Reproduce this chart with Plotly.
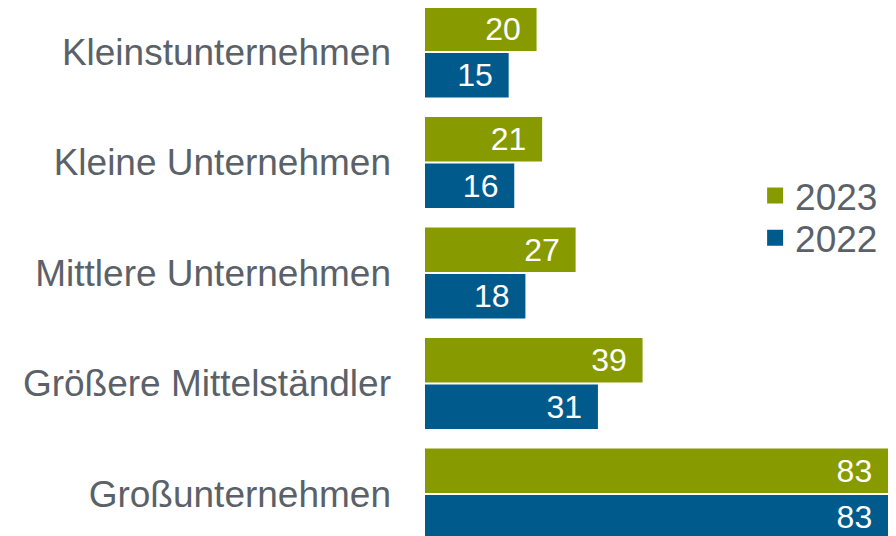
import plotly.graph_objects as go

categories = ["Kleinstunternehmen", "Kleine Unternehmen", "Mittlere Unternehmen",
              "Größere Mittelständler", "Großunternehmen"]
values_2023 = [20, 21, 27, 39, 83]
values_2022 = [15, 16, 18, 31, 83]

green = "#879a00"
blue = "#005a8c"
grey = "#5a6168"
font = "Liberation Sans, Arial, sans-serif"

fig = go.Figure()
fig.add_trace(go.Bar(y=categories, x=values_2023, orientation="h", name="2023",
                     marker_color=green, showlegend=False))
fig.add_trace(go.Bar(y=categories, x=values_2022, orientation="h", name="2022",
                     marker_color=blue, showlegend=False))

# legend entries with bigger square markers, one legend each so the spacing can be set
fig.add_trace(go.Scatter(x=[None], y=[None], mode="markers", name="2023", legend="legend",
                         marker=dict(symbol="square", size=17, color=green)))
fig.add_trace(go.Scatter(x=[None], y=[None], mode="markers", name="2022", legend="legend2",
                         marker=dict(symbol="square", size=17, color=blue)))

# thin spaces after the value give the right padding inside the bar end
fig.update_traces(texttemplate="%{x}\u2009\u2009", textposition="inside", insidetextanchor="end",
                  textfont=dict(color="white", size=32, family=font),
                  marker_line_width=0, selector=dict(type="bar"))

leg = dict(xanchor="left", yanchor="middle", font=dict(size=37, color=grey),
           bgcolor="rgba(0,0,0,0)", itemsizing="trace")

fig.update_layout(
    width=888, height=528,
    margin=dict(l=417, r=8, t=0, b=0),
    plot_bgcolor="white", paper_bgcolor="white",
    barmode="group", bargap=0.16, bargroupgap=0.04,
    font=dict(family=font, color=grey),
    xaxis=dict(range=[0, 83], visible=False),
    yaxis=dict(range=[4.38, -0.398], showgrid=False, zeroline=False, showline=False,
               ticks="", tickfont=dict(size=37, color=grey), ticklabelstandoff=33),
    legend=dict(x=0.713, y=0.644, **leg),
    legend2=dict(x=0.713, y=0.564, **leg),
    showlegend=True,
)

fig.write_html("out.html")
